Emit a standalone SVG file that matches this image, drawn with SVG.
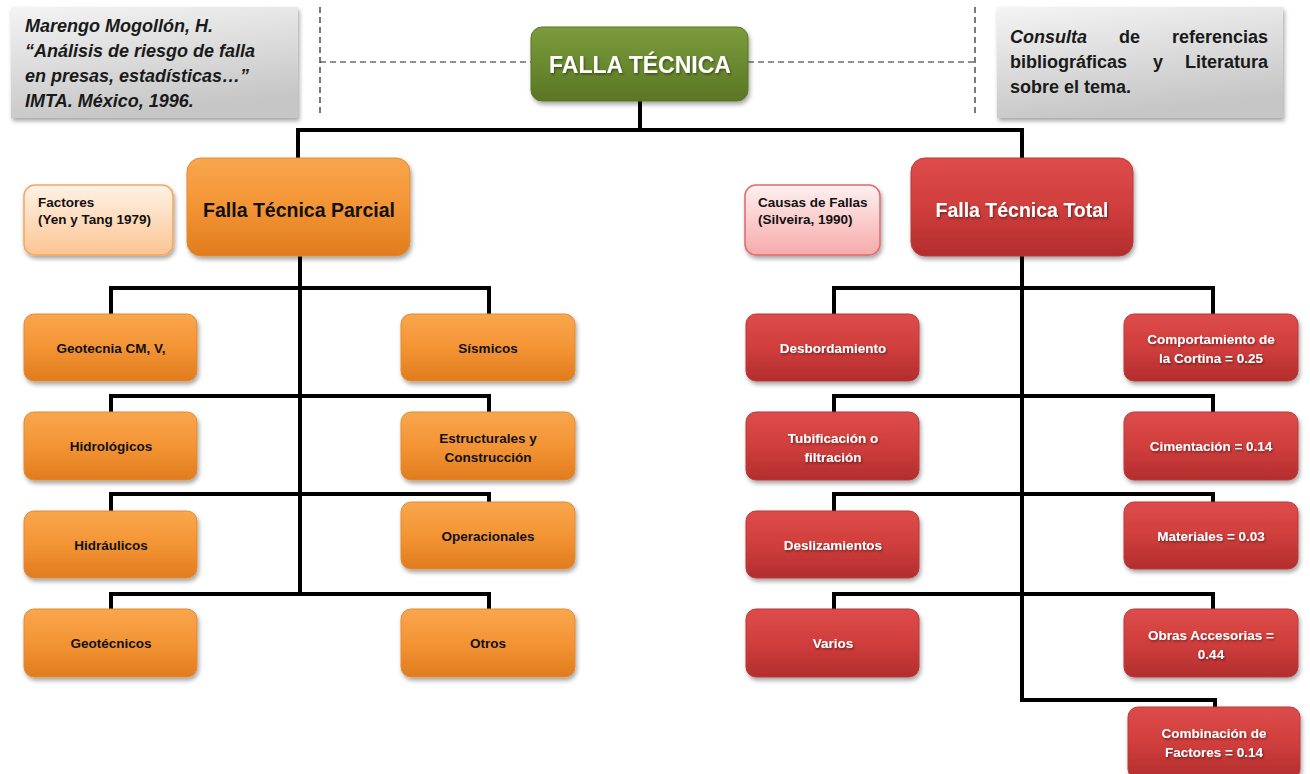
<svg xmlns="http://www.w3.org/2000/svg" width="1310" height="774" viewBox="0 0 1310 774">
<defs>
<linearGradient id="gOrange" x1="0" y1="0" x2="0" y2="1">
<stop offset="0" stop-color="#f9a64e"/><stop offset="0.5" stop-color="#f39434"/><stop offset="1" stop-color="#e07c1e"/>
</linearGradient>
<linearGradient id="gRed" x1="0" y1="0" x2="0" y2="1">
<stop offset="0" stop-color="#dd4c4a"/><stop offset="0.5" stop-color="#d03e3d"/><stop offset="1" stop-color="#b32d2d"/>
</linearGradient>
<linearGradient id="gGreen" x1="0" y1="0" x2="0" y2="1">
<stop offset="0" stop-color="#7b9b3d"/><stop offset="0.5" stop-color="#6b8a30"/><stop offset="1" stop-color="#5a7524"/>
</linearGradient>
<linearGradient id="gGray" x1="0" y1="0" x2="0.3" y2="1">
<stop offset="0" stop-color="#f4f4f4"/><stop offset="1" stop-color="#c6c6c6"/>
</linearGradient>
<linearGradient id="gPeach" x1="0" y1="0" x2="0" y2="1">
<stop offset="0" stop-color="#fff2e6"/><stop offset="1" stop-color="#fcc593"/>
</linearGradient>
<linearGradient id="gPink" x1="0" y1="0" x2="0" y2="1">
<stop offset="0" stop-color="#fff0f0"/><stop offset="1" stop-color="#f6aaaa"/>
</linearGradient>
<filter id="sh" x="-10%" y="-10%" width="125%" height="135%">
<feDropShadow dx="1.5" dy="3" stdDeviation="2" flood-color="#000" flood-opacity="0.35"/>
</filter>
<filter id="tsh" x="-5%" y="-20%" width="110%" height="150%">
<feDropShadow dx="1" dy="1.5" stdDeviation="1" flood-color="#000" flood-opacity="0.45"/>
</filter>
</defs>
<style>
.lb{font-family:"Liberation Sans",Arial,sans-serif;font-weight:bold;}
.or{fill:url(#gOrange);stroke:#e08a35;stroke-width:1;filter:url(#sh);}
.rd{fill:url(#gRed);stroke:#b83a3a;stroke-width:1;filter:url(#sh);}
.gr{fill:url(#gGreen);stroke:#5a7524;stroke-width:1;filter:url(#sh);}
.gy{fill:url(#gGray);filter:url(#sh);}
.leafB{font-size:13.5px;fill:#111;text-anchor:middle;}
.leafW{font-size:13.5px;fill:#fff;text-anchor:middle;filter:url(#tsh);}
.note{font-size:18px;fill:#1a1a1a;}
.con{fill:none;stroke:#000;stroke-width:4;stroke-linejoin:miter;}
.dash{fill:none;stroke:#222;stroke-width:1.2;stroke-dasharray:6 4;}
</style>
<rect width="1310" height="774" fill="#fff"/>

<g id="dashed-frame">
<path class="dash" d="M320,7 V114 M975,7 V114 M320,62 H531 M748,62 H975"/>
</g>

<g id="connectors">
<path class="con" d="M640,101 V130"/>
<path class="con" d="M298,158 V130 H1022 V158"/>
<path class="con" d="M300,256 V594"/>
<path class="con" d="M111,314 V288 H489 V314"/>
<path class="con" d="M111,412 V396 H489 V412"/>
<path class="con" d="M111,511 V494 H489 V502"/>
<path class="con" d="M111,609 V594 H489 V609"/>
<path class="con" d="M1022,256 V700 H1215 V707"/>
<path class="con" d="M834,314 V288 H1213 V314"/>
<path class="con" d="M834,412 V396 H1213 V412"/>
<path class="con" d="M834,511 V494 H1213 V502"/>
<path class="con" d="M834,609 V594 H1213 V609"/>
</g>

<g id="note-left">
<rect class="gy" x="11" y="7" width="287" height="111"/>
<text class="lb note" font-style="italic" font-size="19.5" x="25" y="32">Marengo Mogollón, H.</text>
<text class="lb note" font-style="italic" font-size="19.5" x="25" y="57">“Análisis de riesgo de falla</text>
<text class="lb note" font-style="italic" font-size="19.5" x="25" y="82">en presas, estadísticas…”</text>
<text class="lb note" font-style="italic" font-size="19.5" x="25" y="107">IMTA. México, 1996.</text>
</g>

<g id="note-right">
<rect class="gy" x="997" y="7" width="286" height="111"/>
<text class="lb note" x="1010" y="43"><tspan font-style="italic">Consulta</tspan></text>
<text class="lb note" x="1119" y="43">de</text>
<text class="lb note" x="1268" y="43" text-anchor="end">referencias</text>
<text class="lb note" x="1010" y="68">bibliográficas</text>
<text class="lb note" x="1153" y="68">y</text>
<text class="lb note" x="1268" y="68" text-anchor="end">Literatura</text>
<text class="lb note" x="1010" y="93">sobre el tema.</text>
</g>

<g id="falla-tecnica">
<rect class="gr" x="531" y="27" width="217" height="74" rx="11"/>
<text class="lb" x="640" y="73" font-size="23" fill="#fff" text-anchor="middle" filter="url(#tsh)">FALLA TÉCNICA</text>
</g>

<g id="factores">
<rect x="24" y="185" width="149" height="70" rx="11" fill="url(#gPeach)" stroke="#f5a55c" stroke-width="1.5" filter="url(#sh)"/>
<text class="lb" x="38" y="207" font-size="13.5" fill="#111">Factores</text>
<text class="lb" x="38" y="224" font-size="13.5" fill="#111">(Yen y Tang 1979)</text>
</g>

<g id="parcial">
<rect class="or" x="187" y="158" width="223" height="98" rx="14"/>
<text class="lb" x="299" y="217" font-size="19.5" fill="#111" text-anchor="middle">Falla Técnica Parcial</text>
</g>

<g id="causas">
<rect x="745" y="185" width="135" height="70" rx="11" fill="url(#gPink)" stroke="#e06a6a" stroke-width="1.5" filter="url(#sh)"/>
<text class="lb" x="758" y="207" font-size="13.5" fill="#111">Causas de Fallas</text>
<text class="lb" x="758" y="224" font-size="13.5" fill="#111">(Silveira, 1990)</text>
</g>

<g id="total">
<rect class="rd" x="911" y="158" width="222" height="98" rx="14"/>
<text class="lb" x="1022" y="217" font-size="19.5" fill="#fff" text-anchor="middle" filter="url(#tsh)">Falla Técnica Total</text>
</g>

<g id="geotecnia"><rect class="or" x="24" y="314" width="173" height="67" rx="10"/><text class="lb leafB" x="111" y="353">Geotecnia CM, V,</text></g>
<g id="sismicos"><rect class="or" x="401" y="314" width="174" height="67" rx="10"/><text class="lb leafB" x="488" y="353">Sísmicos</text></g>
<g id="hidrologicos"><rect class="or" x="24" y="412" width="173" height="68" rx="10"/><text class="lb leafB" x="111" y="451">Hidrológicos</text></g>
<g id="estructurales"><rect class="or" x="401" y="412" width="174" height="68" rx="10"/><text class="lb leafB" x="488" y="443">Estructurales y</text><text class="lb leafB" x="488" y="462">Construcción</text></g>
<g id="hidraulicos"><rect class="or" x="24" y="511" width="173" height="67" rx="10"/><text class="lb leafB" x="111" y="550">Hidráulicos</text></g>
<g id="operacionales"><rect class="or" x="401" y="502" width="174" height="67" rx="10"/><text class="lb leafB" x="488" y="541">Operacionales</text></g>
<g id="geotecnicos"><rect class="or" x="24" y="609" width="173" height="68" rx="10"/><text class="lb leafB" x="111" y="648">Geotécnicos</text></g>
<g id="otros"><rect class="or" x="401" y="609" width="174" height="68" rx="10"/><text class="lb leafB" x="488" y="648">Otros</text></g>

<g id="desbordamiento"><rect class="rd" x="746" y="314" width="173" height="67" rx="10"/><text class="lb leafW" x="833" y="353">Desbordamiento</text></g>
<g id="comportamiento"><rect class="rd" x="1124" y="314" width="174" height="67" rx="10"/><text class="lb leafW" x="1211" y="344">Comportamiento de</text><text class="lb leafW" x="1211" y="363">la Cortina = 0.25</text></g>
<g id="tubificacion"><rect class="rd" x="746" y="412" width="173" height="68" rx="10"/><text class="lb leafW" x="833" y="443">Tubificación o</text><text class="lb leafW" x="833" y="462">filtración</text></g>
<g id="cimentacion"><rect class="rd" x="1124" y="412" width="174" height="68" rx="10"/><text class="lb leafW" x="1211" y="451">Cimentación = 0.14</text></g>
<g id="deslizamientos"><rect class="rd" x="746" y="511" width="173" height="67" rx="10"/><text class="lb leafW" x="833" y="550">Deslizamientos</text></g>
<g id="materiales"><rect class="rd" x="1124" y="502" width="174" height="67" rx="10"/><text class="lb leafW" x="1211" y="541">Materiales = 0.03</text></g>
<g id="varios"><rect class="rd" x="746" y="609" width="173" height="68" rx="10"/><text class="lb leafW" x="833" y="648">Varios</text></g>
<g id="obras"><rect class="rd" x="1124" y="609" width="174" height="68" rx="10"/><text class="lb leafW" x="1211" y="640">Obras Accesorias =</text><text class="lb leafW" x="1211" y="659">0.44</text></g>
<g id="combinacion"><rect class="rd" x="1128" y="707" width="172" height="72" rx="10"/><text class="lb leafW" x="1214" y="738">Combinación de</text><text class="lb leafW" x="1214" y="757">Factores = 0.14</text></g>
</svg>
